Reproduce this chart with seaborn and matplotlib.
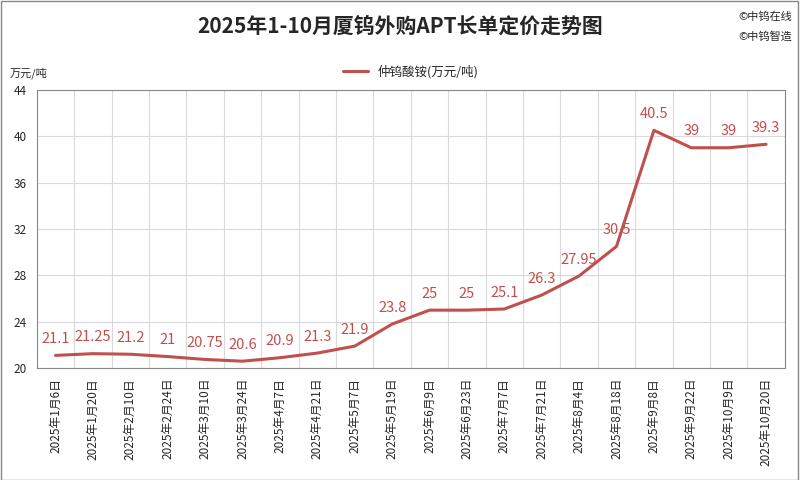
import matplotlib
matplotlib.use("Agg")
import matplotlib.pyplot as plt
import seaborn as sns
import pandas as pd
import numpy as np

dates = ["2025年1月6日", "2025年1月20日", "2025年2月10日", "2025年2月24日", "2025年3月10日",
         "2025年3月24日", "2025年4月7日", "2025年4月21日", "2025年5月7日", "2025年5月19日",
         "2025年6月9日", "2025年6月23日", "2025年7月7日", "2025年7月21日", "2025年8月4日",
         "2025年8月18日", "2025年9月8日", "2025年9月22日", "2025年10月9日", "2025年10月20日"]
prices = [21.1, 21.25, 21.2, 21, 20.75, 20.6, 20.9, 21.3, 21.9, 23.8,
          25, 25, 25.1, 26.3, 27.95, 30.5, 40.5, 39, 39, 39.3]
labels = ["21.1", "21.25", "21.2", "21", "20.75", "20.6", "20.9", "21.3", "21.9", "23.8",
          "25", "25", "25.1", "26.3", "27.95", "30.5", "40.5", "39", "39", "39.3"]

sns.set_style("white")
plt.rcParams['font.family'] = ['Noto Sans CJK SC', 'DejaVu Sans']
color = "#C0504D"

df = pd.DataFrame({"x": np.arange(len(dates)), "y": prices})
fig = plt.figure(figsize=(8, 4.8), dpi=100)
ax = fig.add_axes([0.046, 0.233, 0.935, 0.58])
sns.lineplot(data=df, x="x", y="y", ax=ax, color=color, linewidth=2.2,
             label="仲钨酸铵(万元/吨)")

for i, (v, t) in enumerate(zip(prices, labels)):
    ax.text(i, v + 0.8, t, color=color, fontsize=10.5, ha="center", va="bottom")

ax.set_xlim(-0.5, len(dates) - 0.5)
ax.set_ylim(20, 44)
ax.set_yticks(range(20, 45, 4))
ax.set_xticks(range(len(dates)))
ax.set_xticklabels(dates, rotation=90, fontsize=8.5)
ax.tick_params(axis="y", labelsize=8.5)
for b in np.arange(-0.5, len(dates), 1):
    ax.axvline(b, color="#D9D9D9", linewidth=0.8, zorder=0)
ax.grid(axis="y", color="#D9D9D9", linewidth=0.8)
ax.set_xlabel("")
ax.set_ylabel("")
for s in ax.spines.values():
    s.set_color("#888888")
    s.set_linewidth(0.8)

ax.legend(loc="lower center", bbox_to_anchor=(0.5, 1.0), frameon=False, fontsize=9)
fig.text(0.5, 0.945, "2025年1-10月厦钨外购APT长单定价走势图", ha="center", va="center",
         fontsize=15, fontweight="bold")
fig.text(0.99, 0.965, "©中钨在线", ha="right", va="center", fontsize=8)
fig.text(0.99, 0.925, "©中钨智造", ha="right", va="center", fontsize=8)
fig.text(0.012, 0.848, "万元/吨", ha="left", va="center", fontsize=8)

fig.patches.append(plt.Rectangle((0.001, 0.001), 0.997, 0.997, transform=fig.transFigure,
                                 fill=False, edgecolor="#888888", linewidth=1))
fig.savefig("out.png", dpi=100)
